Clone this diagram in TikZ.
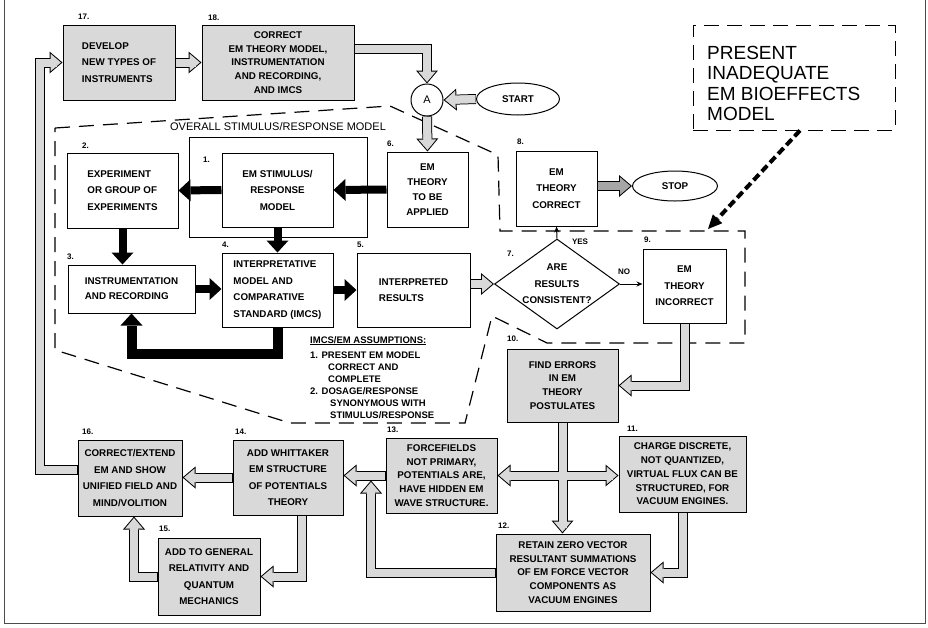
\documentclass[tikz,border=0pt]{standalone}
\usepackage{fontspec}
\setmainfont{Liberation Sans}
\usetikzlibrary{arrows.meta,shapes.geometric}
\colorlet{boxgray}{black!15}
\colorlet{boxgraydark}{black!35}

\begin{document}
\begin{tikzpicture}[x=1pt,y=1pt]
            \tikzstyle{every node}+=[inner sep=0pt]
            \tikzstyle{box}=[draw, line width=1pt, align=center, font=\bfseries\fontsize{9.8}{15}\selectfont]
            \tikzstyle{graybox}=[box, fill=boxgray]
            \tikzstyle{tight}=[font=\bfseries\fontsize{9.8}{13.8}\selectfont]
            \tikzstyle{loose}=[font=\bfseries\fontsize{9.8}{16.5}\selectfont]
            \tikzstyle{num}=[anchor=west, font=\bfseries\fontsize{8}{9}\selectfont]
            \tikzstyle{hollow}=[line width=10pt, line join=miter, -{Triangle[length=13pt,width=22pt,line width=0pt]},
              postaction={draw=boxgray, line width=8pt, -{Triangle[length=10.45pt,width=17.7pt,line width=0pt]}, shorten >=1.55pt, shorten <=0.6pt},
              postaction={draw=boxgray, line width=8pt, -, shorten >=6pt, shorten <=0.6pt}]
            \tikzstyle{hollowdark}=[line width=10pt, line join=miter, -{Triangle[length=13pt,width=22pt,line width=0pt]},
              postaction={draw=boxgraydark, line width=8pt, -{Triangle[length=10.45pt,width=17.7pt,line width=0pt]}, shorten >=1.55pt, shorten <=0.6pt},
              postaction={draw=boxgraydark, line width=8pt, -, shorten >=6pt, shorten <=0.6pt}]
            \tikzstyle{hollowboth}=[line width=10pt, line join=miter, {Triangle[length=13pt,width=22pt,line width=0pt]}-{Triangle[length=13pt,width=22pt,line width=0pt]},
              postaction={draw=boxgray, line width=8pt, {Triangle[length=10.45pt,width=17.7pt,line width=0pt]}-{Triangle[length=10.45pt,width=17.7pt,line width=0pt]}, shorten >=1.55pt, shorten <=1.55pt},
              postaction={draw=boxgray, line width=8pt, -, shorten >=6pt, shorten <=6pt}]
            \tikzstyle{blk}=[line width=8pt, line join=miter, -{Triangle[length=12pt,width=22pt,line width=0pt]}]
            \tikzstyle{yesno}=[line width=1pt, -{Stealth[length=6pt,width=5pt]}]
            \tikzstyle{zone}=[line width=1.2pt, dash pattern=on 15pt off 9pt]
            \useasboundingbox (0,0) rectangle (928,-627);
            \draw [black!70, line width=1pt] (4,0) -- (4,-623) -- (925,-623) -- (925,0);
            \draw [zone] (55,-128) -- (390,-106) -- (498,-155) -- (500,-231) -- (745,-231) -- (745,-343) -- (547,-343) -- (492,-316) -- (465,-423) -- (290,-423) -- (55,-350) -- cycle;
            \node [num] (n17) at (78,-17) {17.};
            \node [num] (n18) at (208,-18) {18.};
            \node [num] (n1) at (203,-160) {1.};
            \node [num] (n2) at (82,-146) {2.};
            \node [num] (n3) at (67,-257) {3.};
            \node [num] (n4) at (222,-245) {4.};
            \node [num] (n5) at (357,-245) {5.};
            \node [num] (n6) at (387,-144) {6.};
            \node [num] (n7) at (507,-254) {7.};
            \node [num] (n8) at (517,-142) {8.};
            \node [num] (n9) at (644,-240) {9.};
            \node [num] (n10) at (507,-339) {10.};
            \node [num] (n11) at (627,-429) {11.};
            \node [num] (n12) at (498,-526) {12.};
            \node [num] (n13) at (387,-430) {13.};
            \node [num] (n14) at (235,-432) {14.};
            \node [num] (n15) at (159,-529) {15.};
            \node [num] (n16) at (82,-432) {16.};
            \node [font=\fontsize{11}{13}\selectfont] (title) at (278,-127) {OVERALL STIMULUS/RESPONSE MODEL};
            \node [draw, line width=1pt, minimum width=178, minimum height=100] (srm) at (278,-187) {};
            \node [graybox, loose, align=left, minimum width=112, minimum height=75] (b17) at (119,-62.5) {DEVELOP\\NEW TYPES OF\\INSTRUMENTS};
            \node [graybox, tight, minimum width=152, minimum height=75] (b18) at (278,-62.5) {CORRECT\\EM THEORY MODEL,\\INSTRUMENTATION\\AND RECORDING,\\AND IMCS};
            \node [box, circle, minimum size=32, font=\fontsize{11}{13}\selectfont] (A) at (427,-100) {A};
            \node [box, ellipse, minimum width=83, minimum height=32] (start) at (518,-99) {START};
            \node [box, minimum width=81, minimum height=75] (b6) at (427.5,-189.5) {EM\\THEORY\\TO BE\\APPLIED};
            \node [box, fill=white, loose, minimum width=111, minimum height=74] (b1) at (277.5,-190) {EM STIMULUS/\\RESPONSE\\MODEL};
            \node [box, loose, align=left, minimum width=111, minimum height=75] (b2) at (122.5,-190.5) {EXPERIMENT\\OR GROUP OF\\EXPERIMENTS};
            \node [box, align=left, minimum width=127, minimum height=48] (b3) at (131.5,-289) {INSTRUMENTATION\\AND RECORDING};
            \node [box, loose, align=left, minimum width=111, minimum height=74] (b4) at (277.5,-290) {INTERPRETATIVE\\MODEL AND\\COMPARATIVE\\STANDARD (IMCS)};
            \node [box, loose, align=left, minimum width=113, minimum height=74] (b5) at (413.5,-290) {INTERPRETED\\RESULTS};
            \node [box, loose, diamond, aspect=1.39, minimum width=125, minimum height=90] (d7) at (557,-284) {ARE\\RESULTS\\CONSISTENT?};
            \node [box, loose, minimum width=81, minimum height=75] (b8) at (556.5,-188.5) {EM\\THEORY\\CORRECT};
            \node [box, ellipse, minimum width=85, minimum height=30] (stop) at (675,-186) {STOP};
            \node [box, loose, minimum width=83, minimum height=74] (b9) at (684.5,-286) {EM\\THEORY\\INCORRECT};
            \node [num, anchor=center] (yes) at (580,-242) {YES};
            \node [num, anchor=center] (no) at (624,-272) {NO};
            \node [graybox, tight, minimum width=111, minimum height=73] (b10) at (562.5,-385.5) {FIND ERRORS\\IN EM\\THEORY\\POSTULATES};
            \node [graybox, tight, minimum width=127, minimum height=76] (b11) at (682.5,-474) {CHARGE DISCRETE,\\NOT QUANTIZED,\\VIRTUAL FLUX CAN BE\\STRUCTURED, FOR\\VACUUM ENGINES.};
            \node [graybox, tight, minimum width=154, minimum height=77] (b12) at (573,-572.5) {RETAIN ZERO VECTOR\\RESULTANT SUMMATIONS\\OF EM FORCE VECTOR\\COMPONENTS AS\\VACUUM ENGINES};
            \node [graybox, tight, minimum width=111, minimum height=75] (b13) at (441.5,-475.5) {FORCEFIELDS\\NOT PRIMARY,\\POTENTIALS ARE,\\HAVE HIDDEN EM\\WAVE STRUCTURE.};
            \node [graybox, loose, minimum width=110, minimum height=75] (b14) at (288,-477.5) {ADD WHITTAKER\\EM STRUCTURE\\OF POTENTIALS\\THEORY};
            \node [graybox, loose, minimum width=104, minimum height=76] (b16) at (130,-478) {CORRECT/EXTEND\\EM AND SHOW\\UNIFIED FIELD AND\\MIND/VOLITION};
            \node [graybox, loose, minimum width=102, minimum height=77] (b15) at (209,-576.5) {ADD TO GENERAL\\RELATIVITY AND\\QUANTUM\\MECHANICS};
            \node [anchor=north west, align=left, font=\bfseries\fontsize{9.5}{12}\selectfont] (assume) at (310,-336) {\underline{IMCS/EM ASSUMPTIONS:}\\[3pt]1. PRESENT EM MODEL\\\hspace*{18pt}CORRECT AND\\\hspace*{18pt}COMPLETE\\2. DOSAGE/RESPONSE\\\hspace*{20pt}SYNONYMOUS WITH\\\hspace*{20pt}STIMULUS/RESPONSE};
            \node [draw, line width=1pt, dash pattern=on 15pt off 8pt, minimum width=202, minimum height=105] (present) at (794,-77.5) {};
            \node [anchor=north west, align=left, font=\fontsize{19}{20.5}\selectfont] (presenttxt) at (707,-46) {PRESENT\\INADEQUATE\\EM BIOEFFECTS\\MODEL};
            \coordinate (target) at (708,-229);
            \draw [line width=4pt, dash pattern=on 8pt off 4pt, -{Triangle[length=14pt,width=13pt,line width=0pt]}] ([xshift=6pt]present.south) -- (target);
            \draw [blk] (b1.west) -- (b2.east);
            \draw [blk] (b6.west) -- (b1.east);
            \draw [blk] (b2.south) -- (b2.south |- b3.north);
            \draw [blk] (b1.south) -- (b4.north);
            \draw [blk] (b3.east) -- (b3.east -| b4.west);
            \draw [blk] (b4.east) -- (b5.west);
            \draw [blk, line width=10pt] (b4.south) -- ++(0,-26) -| (b3.south);
            \draw [yesno] (d7.north) -- (b8.south);
            \draw [yesno] (d7.east) -- (b9.west |- d7.east);
            \draw [hollow] (b17.east) -- (b18.west);
            \draw [hollow] ([yshift=14pt]b18.east) -| (A.north);
            \draw [hollow] (start.west) -- (A.east);
            \draw [hollow] (A.south) -- (b6.north);
            \draw [hollow] (b5.east |- d7.west) -- (d7.west);
            \draw [hollowdark] (b8.east |- stop.west) -- (stop.west);
            \draw [hollow] (b9.south) |- (b10.east);
            \draw [hollow] (b10.south) -- (b10.south |- b12.north);
            \draw [hollowboth] (b13.east) -- (b13.east -| b11.west);
            \coordinate (cross) at (b10.south |- b13.east);
            \draw [boxgray, line width=8pt] ([yshift=6.5pt]cross) -- ([yshift=-6.5pt]cross);
            \draw [hollow] (b11.south) |- (b12.east);
            \coordinate (join) at (371,-480.5);
            \draw [hollow] (b12.west) -| (join);
            \draw [hollow] (b13.west) -- (b13.west -| b14.east);
            \draw [hollow] (b14.west) -- (b14.west -| b16.east);
            \draw [hollow] ([xshift=14pt]b14.south) |- (b15.east);
            \draw [hollow] (b15.west) -| ([xshift=4pt]b16.south);
            \draw [hollow] ([yshift=8pt]b16.west) -- ++(-38,0) |- (b17.west);
        \end{tikzpicture}
\end{document}
